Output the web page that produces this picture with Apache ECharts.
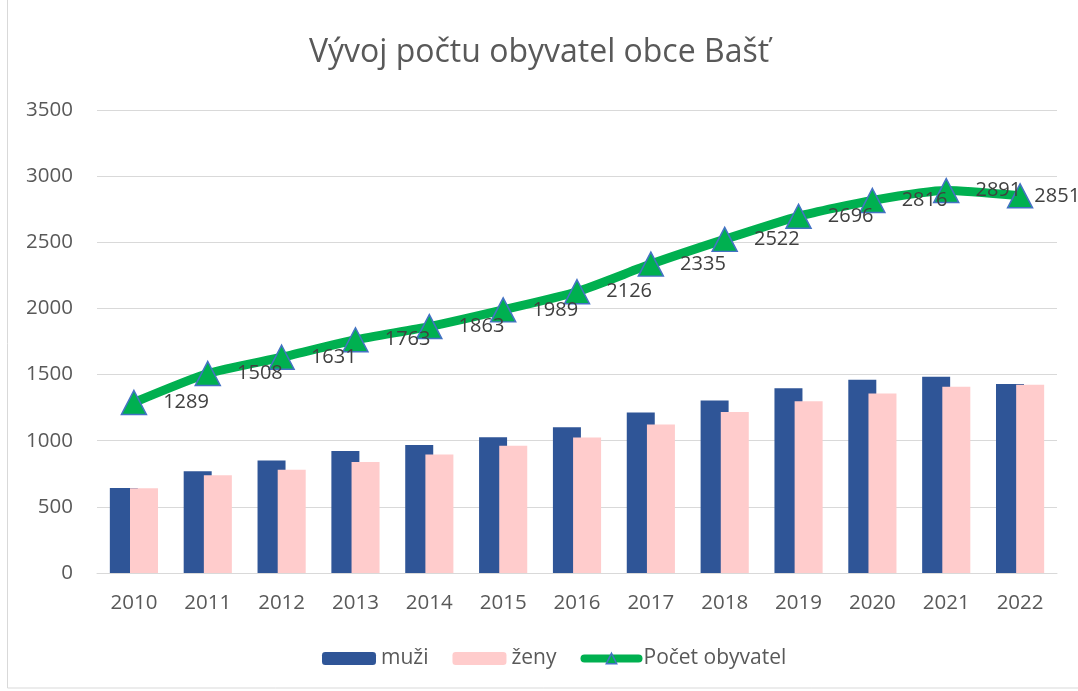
<!DOCTYPE html>
<html>
<head>
<meta charset="utf-8">
<script src="https://cdn.jsdelivr.net/npm/echarts@6/dist/echarts.min.js"></script>
<style>
html,body{margin:0;padding:0;background:#fff;}
#chart{width:1078px;height:691px;}
</style>
</head>
<body>
<div id="chart"></div>
<script>
//data
var roky=['2010','2011','2012','2013','2014','2015','2016','2017','2018','2019','2020','2021','2022'];
var muzi=[642,770,850,923,968,1027,1102,1213,1304,1397,1460,1483,1428];
var zeny=[640,738,781,840,895,962,1024,1122,1218,1299,1356,1408,1423];
var celkem=[1289,1508,1631,1763,1863,1989,2126,2335,2522,2696,2816,2891,2851];

var font='"Open Sans", sans-serif';
var myChart=echarts.init(document.getElementById('chart'));

//posledni popisek je u kraje, tak blize k bodu
var celkemData=celkem.map(function(v,i){
    if(i==celkem.length-1){
        return {value:v,label:{distance:1}};
    }
    return v;
});

var option={
    backgroundColor:'#fff',
    textStyle:{fontFamily:font},
    title:{
        text:'Vývoj počtu obyvatel obce Bašť',
        left:'center',
        top:32,
        textStyle:{fontSize:32,fontWeight:'normal',color:'#595959',fontFamily:font}
    },
    graphic:[{
        type:'rect',
        shape:{x:7.5,y:-5,width:1100,height:693},
        style:{fill:'none',stroke:'#d9d9d9',lineWidth:1},
        silent:true
    }],
    legend:{
        bottom:17,
        left:317,
        itemWidth:54,
        itemHeight:13,
        itemGap:24,
        textStyle:{fontSize:21,color:'#595959',fontFamily:font},
        data:[
            'muži',
            'ženy',
            {name:'Počet obyvatel',itemStyle:{color:'#00b050',borderColor:'#4472c4',borderWidth:1.5},lineStyle:{width:8,cap:'round',color:'#00b050'}}
        ]
    },
    grid:{left:97,right:21,top:110,bottom:118},
    xAxis:{
        type:'category',
        data:roky,
        axisLine:{lineStyle:{color:'#d9d9d9',width:1}},
        axisTick:{show:false},
        axisLabel:{fontSize:20.5,color:'#595959',margin:20,fontFamily:font}
    },
    yAxis:{
        type:'value',
        min:0,
        max:3500,
        interval:500,
        axisLine:{show:false},
        axisTick:{show:false},
        axisLabel:{fontSize:20.5,color:'#595959',margin:24,fontFamily:font,formatter:function(v){return String(v);}},
        splitLine:{lineStyle:{color:'#d9d9d9',width:1}}
    },
    series:[
        {
            name:'muži',
            type:'bar',
            data:muzi,
            barWidth:28,
            barGap:'-28%',
            itemStyle:{color:'#2f5597'}
        },
        {
            name:'ženy',
            type:'bar',
            data:zeny,
            barWidth:28,
            itemStyle:{color:'#ffcccc'}
        },
        {
            name:'Počet obyvatel',
            type:'line',
            data:celkemData,
            smooth:0.2,
            symbol:'triangle',
            symbolSize:[25,24],
            lineStyle:{color:'#00b050',width:9,cap:'round'},
            itemStyle:{color:'#00b050',borderColor:'#4472c4',borderWidth:1.5},
            label:{
                show:true,
                position:'right',
                distance:16,
                fontSize:20,
                color:'#404040',
                fontFamily:font
            },
            z:5
        }
    ]
};
myChart.setOption(option);
</script>
</body>
</html>
